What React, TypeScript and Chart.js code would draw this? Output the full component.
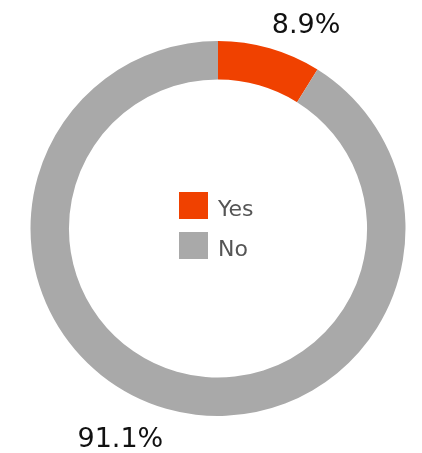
import React, { useEffect, useRef } from "react";
import { Chart, registerables } from "chart.js";

Chart.register(...registerables);

const categories = ["Yes", "No"];
const values = [8.9, 91.1];
const colors = ["#F04100", "#A9A9A9"];
const valueLabels = ["8.9%", "91.1%"];

const labelPlugin = {
  id: "customLabels",
  afterDatasetsDraw(chart: any) {
    const ctx = chart.ctx;
    const meta = chart.getDatasetMeta(0);
    ctx.save();
    let cx = 0, cy = 0;
    meta.data.forEach((arc: any, i: number) => {
      const p = arc.getProps(["x", "y", "startAngle", "endAngle", "outerRadius"], true);
      cx = p.x; cy = p.y;
      const mid = (p.startAngle + p.endAngle) / 2;
      const ax = p.x + Math.cos(mid) * p.outerRadius;
      const ay = p.y + Math.sin(mid) * p.outerRadius;
      ctx.font = "27px 'DejaVu Sans', sans-serif";
      ctx.fillStyle = "#111111";
      ctx.textAlign = ax >= p.x ? "left" : "right";
      ctx.textBaseline = "alphabetic";
      if (ay < p.y) {
        ctx.fillText(valueLabels[i], ax + (ax >= p.x ? 2 : -3), ay - 15);
      } else {
        ctx.fillText(valueLabels[i], ax + (ax >= p.x ? 2 : -3), ay + 38);
      }
    });
    // legend in the centre
    const sw = 29, sh = 27, gap = 40;
    const left = cx - 39;
    const top0 = cy - 36.5;
    categories.forEach((c, i) => {
      const top = top0 + i * gap;
      ctx.fillStyle = colors[i];
      ctx.fillRect(left, top, sw, sh);
      ctx.fillStyle = "#555555";
      ctx.font = "22px 'DejaVu Sans', sans-serif";
      ctx.textAlign = "left";
      ctx.textBaseline = "alphabetic";
      ctx.fillText(c, left + sw + 10, top + sh / 2 + 10);
    });
    ctx.restore();
  },
};

export default function App() {
  const ref = useRef<HTMLCanvasElement>(null);
  useEffect(() => {
    if (!ref.current) return;
    const chart = new Chart(ref.current, {
      type: "doughnut",
      data: {
        labels: categories,
        datasets: [
          {
            data: values,
            backgroundColor: colors,
            borderWidth: 0,
            hoverOffset: 0,
          },
        ],
      },
      options: {
        responsive: false,
        animation: false,
        cutout: "79.5%",
        layout: { padding: { left: 30.5, right: 16.5, top: 41, bottom: 37 } },
        plugins: { legend: { display: false }, tooltip: { enabled: false } },
      },
      plugins: [labelPlugin],
    });
    return () => chart.destroy();
  }, []);
  return (
    <div style={{ position: "absolute", left: 0, top: 0, width: 422, height: 453, background: "#fff" }}>
      <canvas ref={ref} width={422} height={453} />
    </div>
  );
}
